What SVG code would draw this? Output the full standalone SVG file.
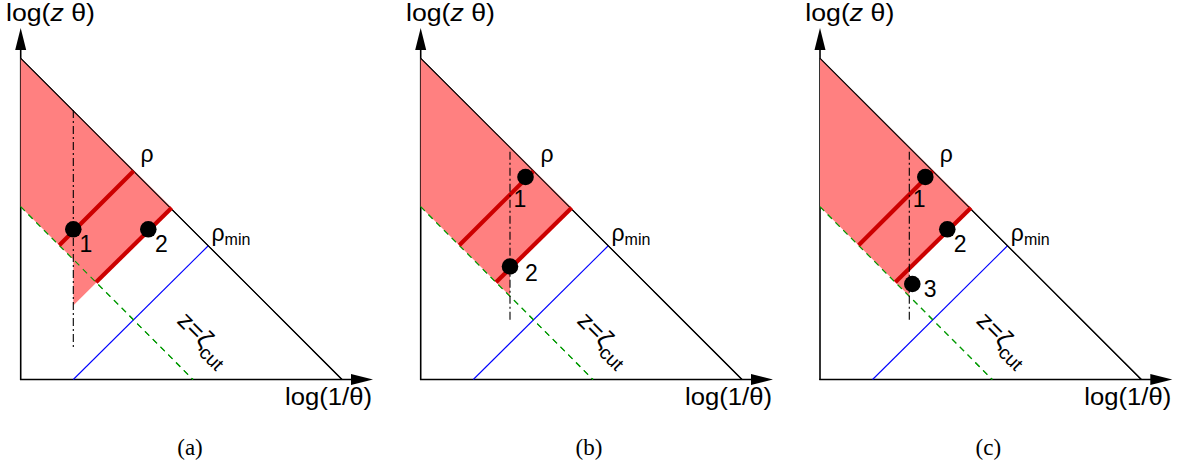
<svg xmlns="http://www.w3.org/2000/svg" width="1183" height="473" viewBox="0 0 1183 473">
<style>
.axis{stroke:#000;stroke-width:1.6;fill:none}
.diag{stroke:#000;stroke-width:1.1;fill:none}
.fill{fill:#ff8080;stroke:none}
.red{stroke:#cc0000;stroke-width:4.2;fill:none}
.green{stroke:#009900;stroke-width:1.1;stroke-dasharray:6,5;fill:none}
.blue{stroke:#0000ff;stroke-width:1.1;fill:none}
.dd{stroke:#000;stroke-width:1.1;stroke-dasharray:8,3,2,3;fill:none}
.dot{fill:#000}
.t{font-family:"Liberation Sans",Arial,sans-serif;font-size:23px;fill:#000}
.sub{font-family:"Liberation Sans",Arial,sans-serif;font-size:16px;fill:#000}
.zl{font-family:"Liberation Sans",Arial,sans-serif;font-size:25px;fill:#000}
.zs{font-size:19px}
.cap{font-family:"Liberation Serif","Times New Roman",serif;font-size:23px;fill:#000}
</style>
<defs>
<g id="frame">
<line class="axis" x1="20.7" y1="380" x2="20.7" y2="48"/>
<polygon points="20.7,28 15.2,50 26.2,50" fill="#000"/>
<line class="axis" x1="20" y1="379.5" x2="352" y2="379.5"/>
<polygon points="373,379.5 351,374 351,385" fill="#000"/>
<line class="diag" x1="20.7" y1="58.3" x2="342" y2="379.5"/>
<line class="green" x1="20.7" y1="206.7" x2="193" y2="379.5"/>
<line class="blue" x1="73.3" y1="379.5" x2="208.5" y2="245.5"/>
<text class="t" x="6" y="21" textLength="89" lengthAdjust="spacingAndGlyphs">log(<tspan font-style="italic">z</tspan> θ)</text>
<text class="t" x="285" y="405" textLength="87" lengthAdjust="spacingAndGlyphs">log(1/θ)</text>
<text class="t" x="140.5" y="162">ρ</text>
<text class="t" x="211.5" y="241">ρ<tspan class="sub" dy="4">min</tspan></text>
<text class="zl" transform="translate(176,322) rotate(45)">z=ζ<tspan class="zs" dy="7">cut</tspan></text>
</g>
</defs>
<g id="panel-a">
<use href="#frame"/>
<polygon class="fill" points="20.7,58.3 171.7,207.7 73.3,305.5 73.3,259.3 20.7,206.7"/>
<g id="connectors-a">
<line class="diag" x1="20.7" y1="58.3" x2="342" y2="379.5"/>
<line class="green" x1="20.7" y1="206.7" x2="193" y2="379.5"/>
<line class="red" x1="59.3" y1="245.3" x2="133.6" y2="171"/>
<line class="red" x1="96" y1="282.3" x2="171.7" y2="207.7"/>
<line class="dd" x1="73.3" y1="110" x2="73.3" y2="350"/>
</g>
<g id="node-a1"><circle class="dot" cx="73.3" cy="229.3" r="8.3"/><text class="t" x="79.5" y="252">1</text></g>
<g id="node-a2"><circle class="dot" cx="148.3" cy="229.3" r="8.3"/><text class="t" x="155" y="252">2</text></g>
<text class="cap" x="190" y="455" text-anchor="middle">(a)</text>
</g>
<g id="panel-b" transform="translate(400,0)">
<use href="#frame"/>
<polygon class="fill" points="20.7,58.3 171.7,207.7 110,269.4 110,296 20.7,206.7"/>
<g id="connectors-b">
<line class="diag" x1="20.7" y1="58.3" x2="342" y2="379.5"/>
<line class="green" x1="20.7" y1="206.7" x2="193" y2="379.5"/>
<line class="red" x1="59.3" y1="245.3" x2="133.6" y2="171"/>
<line class="red" x1="96" y1="282.3" x2="171.7" y2="207.7"/>
<line class="dd" x1="110" y1="151.7" x2="110" y2="320"/>
</g>
<g id="node-b1"><circle class="dot" cx="125.5" cy="177" r="8.3"/><text class="t" x="113.5" y="207">1</text></g>
<g id="node-b2"><circle class="dot" cx="110" cy="266.5" r="8.3"/><text class="t" x="125" y="281">2</text></g>
<text class="cap" x="189" y="455" text-anchor="middle">(b)</text>
</g>
<g id="panel-c" transform="translate(799.3,0)">
<use href="#frame"/>
<polygon class="fill" points="20.7,58.3 171.7,207.7 110,269.4 110,296 20.7,206.7"/>
<g id="connectors-c">
<line class="diag" x1="20.7" y1="58.3" x2="342" y2="379.5"/>
<line class="green" x1="20.7" y1="206.7" x2="193" y2="379.5"/>
<line class="red" x1="59.3" y1="245.3" x2="133.6" y2="171"/>
<line class="red" x1="96" y1="282.3" x2="171.7" y2="207.7"/>
<line class="dd" x1="110" y1="151.7" x2="110" y2="320"/>
</g>
<g id="node-c1"><circle class="dot" cx="126" cy="177" r="8.3"/><text class="t" x="113.5" y="207">1</text></g>
<g id="node-c2"><circle class="dot" cx="148" cy="229.3" r="8.3"/><text class="t" x="154.5" y="252">2</text></g>
<g id="node-c3"><circle class="dot" cx="113" cy="284" r="8.3"/><text class="t" x="124.5" y="297">3</text></g>
<text class="cap" x="189" y="455" text-anchor="middle">(c)</text>
</g>
</svg>
